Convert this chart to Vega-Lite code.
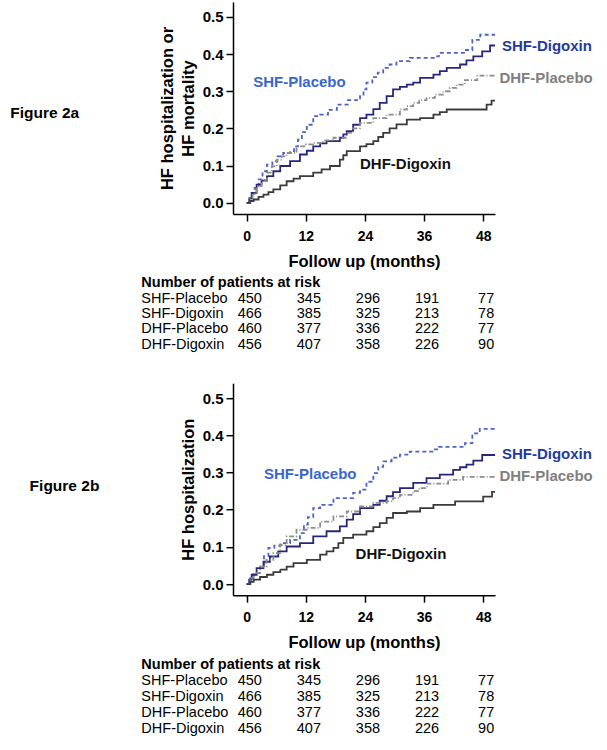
{
  "$schema": "https://vega.github.io/schema/vega-lite/v6.json",
  "padding": {"left": 10, "top": 2, "right": 2, "bottom": 2},
  "background": "white",
  "config": {
    "font": "Liberation Sans",
    "view": {"stroke": null},
    "axis": {"grid": false, "domainColor": "#000", "tickColor": "#000", "labelColor": "#000", "titleColor": "#000", "domainWidth": 1.5, "tickWidth": 1.5, "tickSize": 7, "labelFontWeight": "bold", "titleFontWeight": "bold", "titleFontSize": 16.5}
  },
  "datasets": {
    "curves": [
      {"fig":"a","group":"SHF-Placebo","month":0,"p":0},{"fig":"a","group":"SHF-Placebo","month":0.5,"p":0.012},{"fig":"a","group":"SHF-Placebo","month":1,"p":0.025},{"fig":"a","group":"SHF-Placebo","month":1.6,"p":0.04},{"fig":"a","group":"SHF-Placebo","month":2.4,"p":0.063},{"fig":"a","group":"SHF-Placebo","month":3.2,"p":0.085},{"fig":"a","group":"SHF-Placebo","month":4.1,"p":0.103},{"fig":"a","group":"SHF-Placebo","month":5.2,"p":0.112},{"fig":"a","group":"SHF-Placebo","month":6.2,"p":0.125},{"fig":"a","group":"SHF-Placebo","month":7.4,"p":0.134},{"fig":"a","group":"SHF-Placebo","month":8.8,"p":0.139},{"fig":"a","group":"SHF-Placebo","month":9.6,"p":0.152},{"fig":"a","group":"SHF-Placebo","month":10.4,"p":0.17},{"fig":"a","group":"SHF-Placebo","month":11.2,"p":0.19},{"fig":"a","group":"SHF-Placebo","month":12.2,"p":0.21},{"fig":"a","group":"SHF-Placebo","month":13.5,"p":0.233},{"fig":"a","group":"SHF-Placebo","month":14.9,"p":0.237},{"fig":"a","group":"SHF-Placebo","month":16.5,"p":0.25},{"fig":"a","group":"SHF-Placebo","month":18.3,"p":0.264},{"fig":"a","group":"SHF-Placebo","month":20.5,"p":0.276},{"fig":"a","group":"SHF-Placebo","month":23,"p":0.287},{"fig":"a","group":"SHF-Placebo","month":23.7,"p":0.305},{"fig":"a","group":"SHF-Placebo","month":24.3,"p":0.323},{"fig":"a","group":"SHF-Placebo","month":25.5,"p":0.338},{"fig":"a","group":"SHF-Placebo","month":26.6,"p":0.35},{"fig":"a","group":"SHF-Placebo","month":27.7,"p":0.363},{"fig":"a","group":"SHF-Placebo","month":29,"p":0.372},{"fig":"a","group":"SHF-Placebo","month":30.4,"p":0.381},{"fig":"a","group":"SHF-Placebo","month":33.1,"p":0.39},{"fig":"a","group":"SHF-Placebo","month":38.2,"p":0.394},{"fig":"a","group":"SHF-Placebo","month":39,"p":0.403},{"fig":"a","group":"SHF-Placebo","month":44.5,"p":0.411},{"fig":"a","group":"SHF-Placebo","month":45.8,"p":0.438},{"fig":"a","group":"SHF-Placebo","month":47.4,"p":0.452},{"fig":"a","group":"SHF-Placebo","month":50.4,"p":0.452},
      {"fig":"a","group":"SHF-Digoxin","month":0,"p":0},{"fig":"a","group":"SHF-Digoxin","month":0.5,"p":0.012},{"fig":"a","group":"SHF-Digoxin","month":1,"p":0.027},{"fig":"a","group":"SHF-Digoxin","month":2,"p":0.049},{"fig":"a","group":"SHF-Digoxin","month":3,"p":0.06},{"fig":"a","group":"SHF-Digoxin","month":4.1,"p":0.072},{"fig":"a","group":"SHF-Digoxin","month":5.4,"p":0.085},{"fig":"a","group":"SHF-Digoxin","month":6.8,"p":0.099},{"fig":"a","group":"SHF-Digoxin","month":8.8,"p":0.112},{"fig":"a","group":"SHF-Digoxin","month":10.8,"p":0.13},{"fig":"a","group":"SHF-Digoxin","month":12.2,"p":0.14},{"fig":"a","group":"SHF-Digoxin","month":13.5,"p":0.152},{"fig":"a","group":"SHF-Digoxin","month":14.9,"p":0.16},{"fig":"a","group":"SHF-Digoxin","month":16.2,"p":0.166},{"fig":"a","group":"SHF-Digoxin","month":18.9,"p":0.175},{"fig":"a","group":"SHF-Digoxin","month":19.6,"p":0.184},{"fig":"a","group":"SHF-Digoxin","month":20.3,"p":0.193},{"fig":"a","group":"SHF-Digoxin","month":21.6,"p":0.21},{"fig":"a","group":"SHF-Digoxin","month":23,"p":0.228},{"fig":"a","group":"SHF-Digoxin","month":24.3,"p":0.237},{"fig":"a","group":"SHF-Digoxin","month":25.7,"p":0.252},{"fig":"a","group":"SHF-Digoxin","month":27,"p":0.269},{"fig":"a","group":"SHF-Digoxin","month":28.4,"p":0.287},{"fig":"a","group":"SHF-Digoxin","month":29.7,"p":0.305},{"fig":"a","group":"SHF-Digoxin","month":31.1,"p":0.312},{"fig":"a","group":"SHF-Digoxin","month":32.5,"p":0.318},{"fig":"a","group":"SHF-Digoxin","month":33.8,"p":0.323},{"fig":"a","group":"SHF-Digoxin","month":35.2,"p":0.336},{"fig":"a","group":"SHF-Digoxin","month":37.9,"p":0.345},{"fig":"a","group":"SHF-Digoxin","month":39.2,"p":0.354},{"fig":"a","group":"SHF-Digoxin","month":40.6,"p":0.363},{"fig":"a","group":"SHF-Digoxin","month":43.3,"p":0.372},{"fig":"a","group":"SHF-Digoxin","month":44.6,"p":0.383},{"fig":"a","group":"SHF-Digoxin","month":46,"p":0.394},{"fig":"a","group":"SHF-Digoxin","month":47.8,"p":0.407},{"fig":"a","group":"SHF-Digoxin","month":49.4,"p":0.423},{"fig":"a","group":"SHF-Digoxin","month":50.4,"p":0.423},
      {"fig":"a","group":"DHF-Placebo","month":0,"p":0},{"fig":"a","group":"DHF-Placebo","month":0.6,"p":0.012},{"fig":"a","group":"DHF-Placebo","month":1.2,"p":0.025},{"fig":"a","group":"DHF-Placebo","month":2,"p":0.045},{"fig":"a","group":"DHF-Placebo","month":3,"p":0.062},{"fig":"a","group":"DHF-Placebo","month":4.1,"p":0.081},{"fig":"a","group":"DHF-Placebo","month":5.1,"p":0.098},{"fig":"a","group":"DHF-Placebo","month":6.1,"p":0.116},{"fig":"a","group":"DHF-Placebo","month":7.1,"p":0.125},{"fig":"a","group":"DHF-Placebo","month":8.1,"p":0.134},{"fig":"a","group":"DHF-Placebo","month":10.1,"p":0.152},{"fig":"a","group":"DHF-Placebo","month":12,"p":0.157},{"fig":"a","group":"DHF-Placebo","month":13.5,"p":0.161},{"fig":"a","group":"DHF-Placebo","month":15.5,"p":0.168},{"fig":"a","group":"DHF-Placebo","month":17.6,"p":0.175},{"fig":"a","group":"DHF-Placebo","month":20.3,"p":0.188},{"fig":"a","group":"DHF-Placebo","month":21.6,"p":0.2},{"fig":"a","group":"DHF-Placebo","month":23,"p":0.215},{"fig":"a","group":"DHF-Placebo","month":25.7,"p":0.228},{"fig":"a","group":"DHF-Placebo","month":28.4,"p":0.237},{"fig":"a","group":"DHF-Placebo","month":31.1,"p":0.251},{"fig":"a","group":"DHF-Placebo","month":32.5,"p":0.26},{"fig":"a","group":"DHF-Placebo","month":33.8,"p":0.269},{"fig":"a","group":"DHF-Placebo","month":35,"p":0.276},{"fig":"a","group":"DHF-Placebo","month":36.5,"p":0.282},{"fig":"a","group":"DHF-Placebo","month":38.2,"p":0.291},{"fig":"a","group":"DHF-Placebo","month":39.9,"p":0.3},{"fig":"a","group":"DHF-Placebo","month":41.2,"p":0.309},{"fig":"a","group":"DHF-Placebo","month":42.6,"p":0.318},{"fig":"a","group":"DHF-Placebo","month":44.3,"p":0.33},{"fig":"a","group":"DHF-Placebo","month":46.8,"p":0.342},{"fig":"a","group":"DHF-Placebo","month":50.4,"p":0.342},
      {"fig":"a","group":"DHF-Digoxin","month":0,"p":0},{"fig":"a","group":"DHF-Digoxin","month":0.7,"p":0.005},{"fig":"a","group":"DHF-Digoxin","month":1.4,"p":0.009},{"fig":"a","group":"DHF-Digoxin","month":2.4,"p":0.016},{"fig":"a","group":"DHF-Digoxin","month":3.4,"p":0.022},{"fig":"a","group":"DHF-Digoxin","month":4.4,"p":0.029},{"fig":"a","group":"DHF-Digoxin","month":5.4,"p":0.036},{"fig":"a","group":"DHF-Digoxin","month":6.8,"p":0.047},{"fig":"a","group":"DHF-Digoxin","month":8.1,"p":0.058},{"fig":"a","group":"DHF-Digoxin","month":9.5,"p":0.065},{"fig":"a","group":"DHF-Digoxin","month":10.8,"p":0.072},{"fig":"a","group":"DHF-Digoxin","month":13.5,"p":0.081},{"fig":"a","group":"DHF-Digoxin","month":15.2,"p":0.09},{"fig":"a","group":"DHF-Digoxin","month":16.9,"p":0.099},{"fig":"a","group":"DHF-Digoxin","month":18.9,"p":0.116},{"fig":"a","group":"DHF-Digoxin","month":19.6,"p":0.128},{"fig":"a","group":"DHF-Digoxin","month":20.3,"p":0.139},{"fig":"a","group":"DHF-Digoxin","month":23,"p":0.152},{"fig":"a","group":"DHF-Digoxin","month":24.3,"p":0.158},{"fig":"a","group":"DHF-Digoxin","month":25.7,"p":0.166},{"fig":"a","group":"DHF-Digoxin","month":26.7,"p":0.177},{"fig":"a","group":"DHF-Digoxin","month":27.7,"p":0.188},{"fig":"a","group":"DHF-Digoxin","month":29,"p":0.2},{"fig":"a","group":"DHF-Digoxin","month":30.4,"p":0.211},{"fig":"a","group":"DHF-Digoxin","month":32.5,"p":0.224},{"fig":"a","group":"DHF-Digoxin","month":35.2,"p":0.228},{"fig":"a","group":"DHF-Digoxin","month":37.9,"p":0.237},{"fig":"a","group":"DHF-Digoxin","month":39.2,"p":0.244},{"fig":"a","group":"DHF-Digoxin","month":40.6,"p":0.251},{"fig":"a","group":"DHF-Digoxin","month":47.3,"p":0.251},{"fig":"a","group":"DHF-Digoxin","month":48.7,"p":0.264},{"fig":"a","group":"DHF-Digoxin","month":49.7,"p":0.275},{"fig":"a","group":"DHF-Digoxin","month":50.4,"p":0.275},
      {"fig":"b","group":"SHF-Placebo","month":0,"p":0},{"fig":"b","group":"SHF-Placebo","month":0.7,"p":0.015},{"fig":"b","group":"SHF-Placebo","month":1.4,"p":0.03},{"fig":"b","group":"SHF-Placebo","month":2.7,"p":0.047},{"fig":"b","group":"SHF-Placebo","month":3.5,"p":0.075},{"fig":"b","group":"SHF-Placebo","month":4.4,"p":0.097},{"fig":"b","group":"SHF-Placebo","month":5.6,"p":0.103},{"fig":"b","group":"SHF-Placebo","month":6.8,"p":0.11},{"fig":"b","group":"SHF-Placebo","month":8.8,"p":0.119},{"fig":"b","group":"SHF-Placebo","month":10.8,"p":0.137},{"fig":"b","group":"SHF-Placebo","month":11.6,"p":0.16},{"fig":"b","group":"SHF-Placebo","month":12.4,"p":0.18},{"fig":"b","group":"SHF-Placebo","month":13.5,"p":0.204},{"fig":"b","group":"SHF-Placebo","month":14.9,"p":0.213},{"fig":"b","group":"SHF-Placebo","month":17.6,"p":0.231},{"fig":"b","group":"SHF-Placebo","month":21.6,"p":0.245},{"fig":"b","group":"SHF-Placebo","month":23,"p":0.254},{"fig":"b","group":"SHF-Placebo","month":24.3,"p":0.275},{"fig":"b","group":"SHF-Placebo","month":25.7,"p":0.298},{"fig":"b","group":"SHF-Placebo","month":26.7,"p":0.315},{"fig":"b","group":"SHF-Placebo","month":27.7,"p":0.33},{"fig":"b","group":"SHF-Placebo","month":29.4,"p":0.34},{"fig":"b","group":"SHF-Placebo","month":31.1,"p":0.348},{"fig":"b","group":"SHF-Placebo","month":33.1,"p":0.356},{"fig":"b","group":"SHF-Placebo","month":38.2,"p":0.362},{"fig":"b","group":"SHF-Placebo","month":39,"p":0.369},{"fig":"b","group":"SHF-Placebo","month":44.3,"p":0.379},{"fig":"b","group":"SHF-Placebo","month":45.8,"p":0.405},{"fig":"b","group":"SHF-Placebo","month":47.3,"p":0.417},{"fig":"b","group":"SHF-Placebo","month":50.4,"p":0.419},
      {"fig":"b","group":"SHF-Digoxin","month":0,"p":0},{"fig":"b","group":"SHF-Digoxin","month":0.5,"p":0.012},{"fig":"b","group":"SHF-Digoxin","month":1,"p":0.025},{"fig":"b","group":"SHF-Digoxin","month":2,"p":0.043},{"fig":"b","group":"SHF-Digoxin","month":3.4,"p":0.06},{"fig":"b","group":"SHF-Digoxin","month":4.7,"p":0.074},{"fig":"b","group":"SHF-Digoxin","month":6.4,"p":0.088},{"fig":"b","group":"SHF-Digoxin","month":8.1,"p":0.101},{"fig":"b","group":"SHF-Digoxin","month":10.8,"p":0.11},{"fig":"b","group":"SHF-Digoxin","month":13.5,"p":0.128},{"fig":"b","group":"SHF-Digoxin","month":16.2,"p":0.142},{"fig":"b","group":"SHF-Digoxin","month":18.9,"p":0.155},{"fig":"b","group":"SHF-Digoxin","month":20.3,"p":0.173},{"fig":"b","group":"SHF-Digoxin","month":21.6,"p":0.188},{"fig":"b","group":"SHF-Digoxin","month":23,"p":0.204},{"fig":"b","group":"SHF-Digoxin","month":25.7,"p":0.213},{"fig":"b","group":"SHF-Digoxin","month":27,"p":0.224},{"fig":"b","group":"SHF-Digoxin","month":28.4,"p":0.236},{"fig":"b","group":"SHF-Digoxin","month":29.7,"p":0.247},{"fig":"b","group":"SHF-Digoxin","month":31.1,"p":0.258},{"fig":"b","group":"SHF-Digoxin","month":33.8,"p":0.272},{"fig":"b","group":"SHF-Digoxin","month":36.5,"p":0.285},{"fig":"b","group":"SHF-Digoxin","month":39.2,"p":0.294},{"fig":"b","group":"SHF-Digoxin","month":41.9,"p":0.307},{"fig":"b","group":"SHF-Digoxin","month":43.3,"p":0.314},{"fig":"b","group":"SHF-Digoxin","month":44.6,"p":0.321},{"fig":"b","group":"SHF-Digoxin","month":46,"p":0.332},{"fig":"b","group":"SHF-Digoxin","month":47.8,"p":0.347},{"fig":"b","group":"SHF-Digoxin","month":50.4,"p":0.347},
      {"fig":"b","group":"DHF-Placebo","month":0,"p":0},{"fig":"b","group":"DHF-Placebo","month":0.7,"p":0.015},{"fig":"b","group":"DHF-Placebo","month":1.4,"p":0.03},{"fig":"b","group":"DHF-Placebo","month":2.7,"p":0.047},{"fig":"b","group":"DHF-Placebo","month":4,"p":0.065},{"fig":"b","group":"DHF-Placebo","month":5.4,"p":0.083},{"fig":"b","group":"DHF-Placebo","month":6.8,"p":0.105},{"fig":"b","group":"DHF-Placebo","month":8.1,"p":0.128},{"fig":"b","group":"DHF-Placebo","month":10.1,"p":0.146},{"fig":"b","group":"DHF-Placebo","month":12.2,"p":0.151},{"fig":"b","group":"DHF-Placebo","month":14.9,"p":0.168},{"fig":"b","group":"DHF-Placebo","month":17.6,"p":0.182},{"fig":"b","group":"DHF-Placebo","month":20.3,"p":0.195},{"fig":"b","group":"DHF-Placebo","month":23,"p":0.209},{"fig":"b","group":"DHF-Placebo","month":25.7,"p":0.218},{"fig":"b","group":"DHF-Placebo","month":28.4,"p":0.222},{"fig":"b","group":"DHF-Placebo","month":29.7,"p":0.231},{"fig":"b","group":"DHF-Placebo","month":31.1,"p":0.24},{"fig":"b","group":"DHF-Placebo","month":33.8,"p":0.25},{"fig":"b","group":"DHF-Placebo","month":35,"p":0.258},{"fig":"b","group":"DHF-Placebo","month":36.6,"p":0.27},{"fig":"b","group":"DHF-Placebo","month":40.9,"p":0.28},{"fig":"b","group":"DHF-Placebo","month":43.9,"p":0.288},{"fig":"b","group":"DHF-Placebo","month":50.4,"p":0.288},
      {"fig":"b","group":"DHF-Digoxin","month":0,"p":0},{"fig":"b","group":"DHF-Digoxin","month":0.7,"p":0.006},{"fig":"b","group":"DHF-Digoxin","month":1.4,"p":0.012},{"fig":"b","group":"DHF-Digoxin","month":2.7,"p":0.019},{"fig":"b","group":"DHF-Digoxin","month":4.1,"p":0.025},{"fig":"b","group":"DHF-Digoxin","month":5.4,"p":0.032},{"fig":"b","group":"DHF-Digoxin","month":6.8,"p":0.039},{"fig":"b","group":"DHF-Digoxin","month":8.1,"p":0.047},{"fig":"b","group":"DHF-Digoxin","month":9.5,"p":0.056},{"fig":"b","group":"DHF-Digoxin","month":12.2,"p":0.065},{"fig":"b","group":"DHF-Digoxin","month":14.9,"p":0.079},{"fig":"b","group":"DHF-Digoxin","month":16.2,"p":0.088},{"fig":"b","group":"DHF-Digoxin","month":17.6,"p":0.097},{"fig":"b","group":"DHF-Digoxin","month":18.6,"p":0.11},{"fig":"b","group":"DHF-Digoxin","month":19.6,"p":0.124},{"fig":"b","group":"DHF-Digoxin","month":21.6,"p":0.133},{"fig":"b","group":"DHF-Digoxin","month":24.3,"p":0.142},{"fig":"b","group":"DHF-Digoxin","month":25.7,"p":0.153},{"fig":"b","group":"DHF-Digoxin","month":27,"p":0.164},{"fig":"b","group":"DHF-Digoxin","month":28.4,"p":0.178},{"fig":"b","group":"DHF-Digoxin","month":29.7,"p":0.191},{"fig":"b","group":"DHF-Digoxin","month":32.5,"p":0.195},{"fig":"b","group":"DHF-Digoxin","month":35.2,"p":0.204},{"fig":"b","group":"DHF-Digoxin","month":37.9,"p":0.213},{"fig":"b","group":"DHF-Digoxin","month":42.3,"p":0.222},{"fig":"b","group":"DHF-Digoxin","month":48,"p":0.235},{"fig":"b","group":"DHF-Digoxin","month":49.8,"p":0.248},{"fig":"b","group":"DHF-Digoxin","month":50.4,"p":0.248}
    ],
    "labels": [
      {"fig":"a","group":"SHF-Placebo","month":1.3,"p":0.325},
      {"fig":"a","group":"SHF-Digoxin","month":51.8,"p":0.422},
      {"fig":"a","group":"DHF-Placebo","month":51.3,"p":0.335},
      {"fig":"a","group":"DHF-Digoxin","month":23.0,"p":0.105},
      {"fig":"b","group":"SHF-Placebo","month":3.5,"p":0.296},
      {"fig":"b","group":"SHF-Digoxin","month":51.8,"p":0.349},
      {"fig":"b","group":"DHF-Placebo","month":51.3,"p":0.29},
      {"fig":"b","group":"DHF-Digoxin","month":22.1,"p":0.081}
    ],
    "risk": [
      {"group":"SHF-Placebo","month":0,"n":450},{"group":"SHF-Placebo","month":12,"n":345},{"group":"SHF-Placebo","month":24,"n":296},{"group":"SHF-Placebo","month":36,"n":191},{"group":"SHF-Placebo","month":48,"n":77},
      {"group":"SHF-Digoxin","month":0,"n":466},{"group":"SHF-Digoxin","month":12,"n":385},{"group":"SHF-Digoxin","month":24,"n":325},{"group":"SHF-Digoxin","month":36,"n":213},{"group":"SHF-Digoxin","month":48,"n":78},
      {"group":"DHF-Placebo","month":0,"n":460},{"group":"DHF-Placebo","month":12,"n":377},{"group":"DHF-Placebo","month":24,"n":336},{"group":"DHF-Placebo","month":36,"n":222},{"group":"DHF-Placebo","month":48,"n":77},
      {"group":"DHF-Digoxin","month":0,"n":456},{"group":"DHF-Digoxin","month":12,"n":407},{"group":"DHF-Digoxin","month":24,"n":358},{"group":"DHF-Digoxin","month":36,"n":226},{"group":"DHF-Digoxin","month":48,"n":90}
    ]
  },
  "bounds": "flush",
  "spacing": 38.1,
  "vconcat": [
    {
      "width": 262, "height": 212,
      "title": {"text": "Figure 2a", "orient": "left", "angle": 0, "align": "right", "baseline": "middle", "anchor": "middle", "fontSize": 15.5, "fontWeight": "bold", "color": "#000", "offset": 11, "dy": 5},
      "resolve": {"scale": {"color": "independent"}},
      "layer": [
        {
          "data": {"name": "curves"},
          "transform": [{"filter": "datum.fig == 'a'"}],
          "mark": {"type": "line", "interpolate": "step-after", "strokeWidth": 1.8},
          "encoding": {
            "x": {"field": "month", "type": "quantitative", "scale": {"domain": [-2.79, 50.4], "nice": false, "zero": false},
              "axis": {"values": [0, 12, 24, 36, 48], "title": "Follow up (months)", "labelFontSize": 14, "labelPadding": 8, "titlePadding": 10}},
            "y": {"field": "p", "type": "quantitative", "scale": {"domain": [-0.03, 0.54], "nice": false, "zero": false},
              "axis": {"values": [0, 0.1, 0.2, 0.3, 0.4, 0.5], "format": ".1f", "title": ["HF hospitalization or", "HF mortality"], "labelFontSize": 15, "labelPadding": 3, "titlePadding": 6, "titleLineHeight": 21}},
            "color": {"field": "group", "type": "nominal", "scale": {"domain": ["SHF-Placebo", "SHF-Digoxin", "DHF-Placebo", "DHF-Digoxin"], "range": ["#4c64c4", "#27277a", "#8c8c8c", "#3a3a3a"]}, "legend": null},
            "strokeDash": {"field": "group", "type": "nominal", "scale": {"domain": ["SHF-Placebo", "SHF-Digoxin", "DHF-Placebo", "DHF-Digoxin"], "range": [[4, 3], [1, 0], [5, 2, 1, 2], [1, 0]]}, "legend": null}
          }
        },
        {
          "data": {"name": "labels"},
          "transform": [{"filter": "datum.fig == 'a'"}],
          "mark": {"type": "text", "align": "left", "baseline": "middle", "fontSize": 15, "fontWeight": "bold"},
          "encoding": {
            "x": {"field": "month", "type": "quantitative"},
            "y": {"field": "p", "type": "quantitative"},
            "text": {"field": "group"},
            "color": {"field": "group", "type": "nominal", "scale": {"domain": ["SHF-Placebo", "SHF-Digoxin", "DHF-Placebo", "DHF-Digoxin"], "range": ["#3a66cc", "#1f3a9e", "#808080", "#111111"]}, "legend": null}
          }
        }
      ]
    },
    {
      "width": 262, "height": 92.8,
      "layer": [
        {
          "data": {"name": "risk"},
          "mark": {"type": "text", "align": "center", "baseline": "middle", "fontSize": 14.5, "dx": 3, "color": "#000"},
          "encoding": {
            "x": {"field": "month", "type": "quantitative", "scale": {"domain": [-2.79, 50.4], "nice": false, "zero": false}, "axis": null},
            "y": {"field": "group", "type": "nominal", "scale": {"type": "point", "padding": 1.2, "align": 1, "domain": ["Number of patients at risk", "SHF-Placebo", "SHF-Digoxin", "DHF-Placebo", "DHF-Digoxin"]}, "axis": null},
            "text": {"field": "n"}
          }
        },
        {
          "data": {"name": "risk"},
          "transform": [{"filter": "datum.month == 0"}],
          "mark": {"type": "text", "align": "left", "baseline": "middle", "fontSize": 14.5, "color": "#000"},
          "encoding": {
            "x": {"datum": -21.4, "type": "quantitative"},
            "y": {"field": "group", "type": "nominal"},
            "text": {"field": "group"}
          }
        },
        {
          "data": {"values": [{"group": "Number of patients at risk"}]},
          "mark": {"type": "text", "align": "left", "baseline": "middle", "fontSize": 14.5, "fontWeight": "bold", "color": "#000"},
          "encoding": {
            "x": {"datum": -21.4, "type": "quantitative"},
            "y": {"field": "group", "type": "nominal"},
            "text": {"field": "group"}
          }
        }
      ]
    },
    {
      "width": 262, "height": 212,
      "title": {"text": "Figure 2b", "orient": "left", "angle": 0, "align": "right", "baseline": "middle", "anchor": "middle", "fontSize": 15.5, "fontWeight": "bold", "color": "#000", "offset": 11, "dy": -3},
      "resolve": {"scale": {"color": "independent"}},
      "layer": [
        {
          "data": {"name": "curves"},
          "transform": [{"filter": "datum.fig == 'b'"}],
          "mark": {"type": "line", "interpolate": "step-after", "strokeWidth": 1.8},
          "encoding": {
            "x": {"field": "month", "type": "quantitative", "scale": {"domain": [-2.79, 50.4], "nice": false, "zero": false},
              "axis": {"values": [0, 12, 24, 36, 48], "title": "Follow up (months)", "labelFontSize": 14, "labelPadding": 8, "titlePadding": 10}},
            "y": {"field": "p", "type": "quantitative", "scale": {"domain": [-0.03, 0.54], "nice": false, "zero": false},
              "axis": {"values": [0, 0.1, 0.2, 0.3, 0.4, 0.5], "format": ".1f", "title": "HF hospitalization", "labelFontSize": 15, "labelPadding": 3, "titlePadding": 6}},
            "color": {"field": "group", "type": "nominal", "scale": {"domain": ["SHF-Placebo", "SHF-Digoxin", "DHF-Placebo", "DHF-Digoxin"], "range": ["#4c64c4", "#27277a", "#8c8c8c", "#3a3a3a"]}, "legend": null},
            "strokeDash": {"field": "group", "type": "nominal", "scale": {"domain": ["SHF-Placebo", "SHF-Digoxin", "DHF-Placebo", "DHF-Digoxin"], "range": [[4, 3], [1, 0], [5, 2, 1, 2], [1, 0]]}, "legend": null}
          }
        },
        {
          "data": {"name": "labels"},
          "transform": [{"filter": "datum.fig == 'b'"}],
          "mark": {"type": "text", "align": "left", "baseline": "middle", "fontSize": 15, "fontWeight": "bold"},
          "encoding": {
            "x": {"field": "month", "type": "quantitative"},
            "y": {"field": "p", "type": "quantitative"},
            "text": {"field": "group"},
            "color": {"field": "group", "type": "nominal", "scale": {"domain": ["SHF-Placebo", "SHF-Digoxin", "DHF-Placebo", "DHF-Digoxin"], "range": ["#3a66cc", "#1f3a9e", "#808080", "#111111"]}, "legend": null}
          }
        }
      ]
    },
    {
      "width": 262, "height": 95.8,
      "layer": [
        {
          "data": {"name": "risk"},
          "mark": {"type": "text", "align": "center", "baseline": "middle", "fontSize": 14.5, "dx": 3, "color": "#000"},
          "encoding": {
            "x": {"field": "month", "type": "quantitative", "scale": {"domain": [-2.79, 50.4], "nice": false, "zero": false}, "axis": null},
            "y": {"field": "group", "type": "nominal", "scale": {"type": "point", "padding": 1.3034, "align": 1, "domain": ["Number of patients at risk", "SHF-Placebo", "SHF-Digoxin", "DHF-Placebo", "DHF-Digoxin"]}, "axis": null},
            "text": {"field": "n"}
          }
        },
        {
          "data": {"name": "risk"},
          "transform": [{"filter": "datum.month == 0"}],
          "mark": {"type": "text", "align": "left", "baseline": "middle", "fontSize": 14.5, "color": "#000"},
          "encoding": {
            "x": {"datum": -21.4, "type": "quantitative"},
            "y": {"field": "group", "type": "nominal"},
            "text": {"field": "group"}
          }
        },
        {
          "data": {"values": [{"group": "Number of patients at risk"}]},
          "mark": {"type": "text", "align": "left", "baseline": "middle", "fontSize": 14.5, "fontWeight": "bold", "color": "#000"},
          "encoding": {
            "x": {"datum": -21.4, "type": "quantitative"},
            "y": {"field": "group", "type": "nominal"},
            "text": {"field": "group"}
          }
        }
      ]
    }
  ]
}
